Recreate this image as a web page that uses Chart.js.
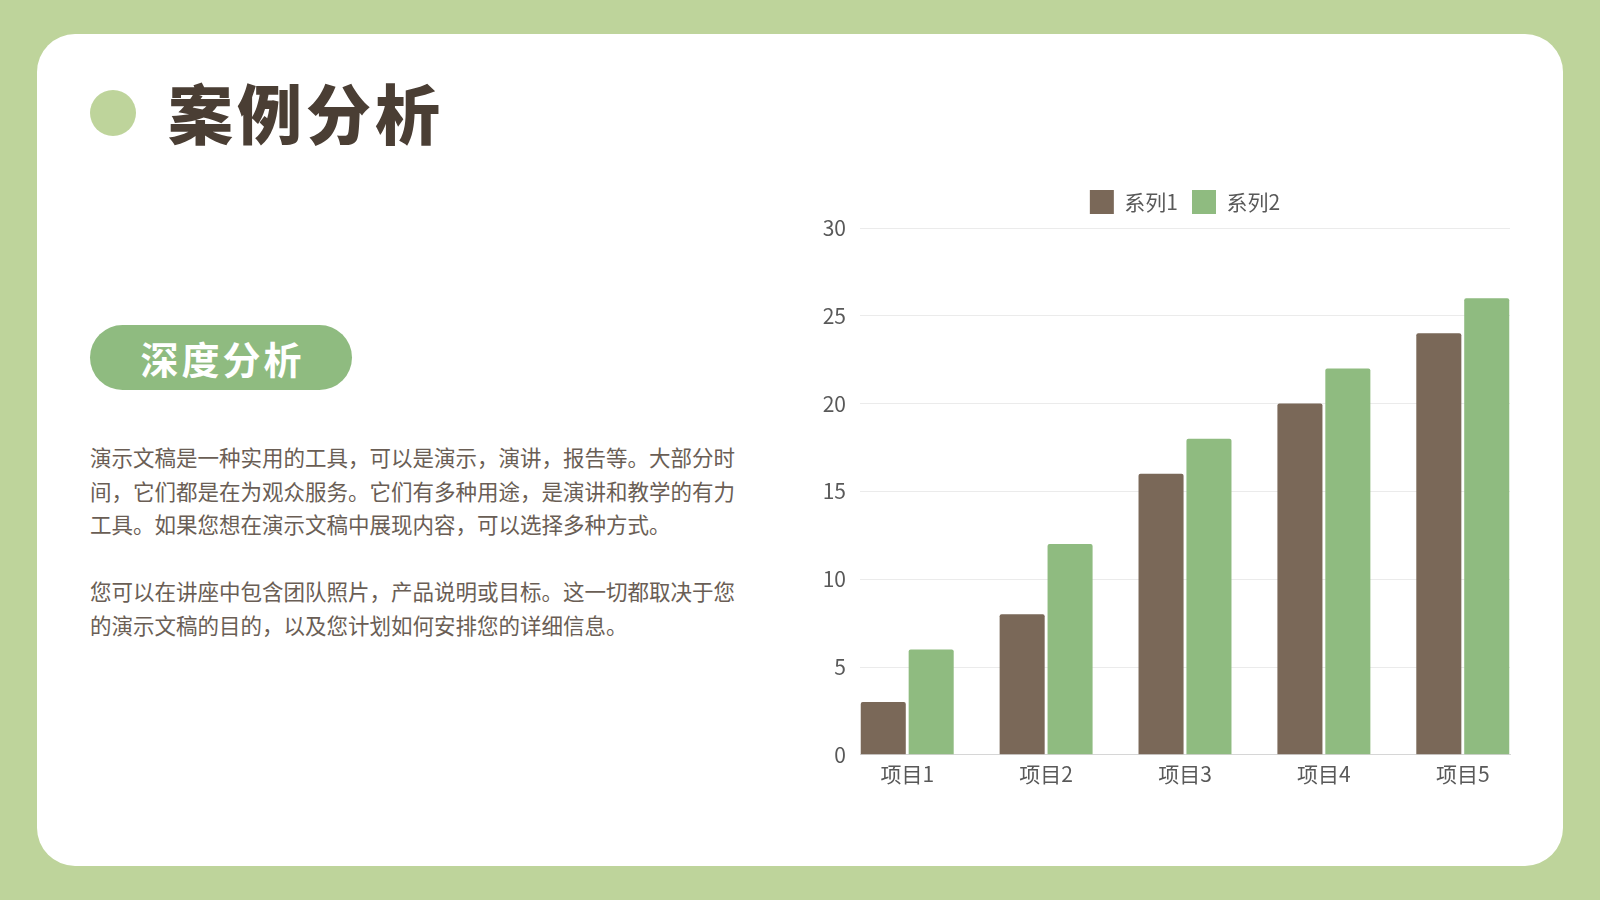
<!DOCTYPE html>
<html lang="zh-CN">
<head>
<meta charset="utf-8">
<script src="https://cdn.jsdelivr.net/npm/chart.js@4/dist/chart.umd.min.js"></script>
<style>
  html, body { margin:0; padding:0; }
  body { width:1600px; height:900px; background:#bed49b; position:relative; overflow:hidden;
         font-family:"Noto Sans CJK SC","Noto Sans",sans-serif; }
  .card { position:absolute; left:37px; top:34px; width:1526px; height:832px; background:#ffffff; border-radius:38px; }
  .dot { position:absolute; left:90px; top:90px; width:46px; height:46px; border-radius:50%; background:#bed49b; }
  .title { position:absolute; left:168px; top:69px; font-size:65px; font-weight:900; color:#4a3e34; letter-spacing:4px; line-height:84px; white-space:nowrap; }
  .pill { position:absolute; left:90px; top:325px; width:262px; height:65px; border-radius:33px; background:#8fbb80;
          color:#ffffff; font-size:38px; font-weight:700; text-align:center; line-height:65px; letter-spacing:3px; text-indent:3px; }
  .para { position:absolute; left:90px; top:440px; width:700px; font-size:21.5px; color:#6a5e55; line-height:33.6px; white-space:nowrap; }
  .para p { margin:0 0 33.6px 0; }
  #wrap { position:absolute; left:800px; top:170px; width:740px; height:634px; }
</style>
</head>
<body>
<div class="card"></div>
<div class="dot"></div>
<div class="title">案例分析</div>
<div class="pill">深度分析</div>
<div class="para">
  <p>演示文稿是一种实用的工具，可以是演示，演讲，报告等。大部分时<br>间，它们都是在为观众服务。它们有多种用途，是演讲和教学的有力<br>工具。如果您想在演示文稿中展现内容，可以选择多种方式。</p>
  <p>您可以在讲座中包含团队照片，产品说明或目标。这一切都取决于您<br>的演示文稿的目的，以及您计划如何安排您的详细信息。</p>
</div>
<div id="wrap"><canvas id="c"></canvas></div>
<script>
const categories = ["项目1", "项目2", "项目3", "项目4", "项目5"];
const series1 = [3, 8, 16, 20, 24];
const series2 = [6, 12, 18, 22, 26];
const seriesNames = ["系列1", "系列2"];
const yTicks = [0, 5, 10, 15, 20, 25, 30];

const toPoints = arr => arr.map((v, i) => ({ x: i, y: v }));
const font = { family: '"Noto Sans CJK SC","Noto Sans",sans-serif', size: 21 };

const chart = new Chart(document.getElementById('c'), {
  type: 'bar',
  data: {
    datasets: [
      { label: seriesNames[0], data: toPoints(series1), backgroundColor: '#7a6858', borderRadius: 2, borderSkipped: 'bottom',
        categoryPercentage: 0.69, barPercentage: 0.94 },
      { label: seriesNames[1], data: toPoints(series2), backgroundColor: '#8fbb80', borderRadius: 2, borderSkipped: 'bottom',
        categoryPercentage: 0.69, barPercentage: 0.94 }
    ]
  },
  options: {
    responsive: true,
    maintainAspectRatio: false,
    animation: false,
    layout: { padding: { left: 0, right: 30, top: 6, bottom: 10 } },
    plugins: {
      tooltip: { enabled: false },
      legend: {
        position: 'top',
        fullSize: false,
        labels: { boxWidth: 24, boxHeight: 24, padding: 14, color: '#595959', font: font }
      }
    },
    scales: {
      x: {
        type: 'linear',
        min: -0.34,
        max: 4.34,
        offset: false,
        grid: { display: false, offset: false, drawTicks: false },
        border: { display: true, color: '#d6d6d6', width: 1 },
        ticks: {
          stepSize: 1,
          includeBounds: false,
          padding: 7,
          color: '#595959',
          font: font,
          callback: v => (Number.isInteger(v) ? (categories[v] ?? '') : '')
        }
      },
      y: {
        min: yTicks[0],
        max: yTicks[yTicks.length - 1],
        afterFit: s => { s.width = 60; },
        afterBuildTicks: s => { s.ticks = yTicks.map(v => ({ value: v })); },
        grid: { color: '#ebebeb', lineWidth: 1, drawTicks: false },
        border: { display: false },
        ticks: { padding: 14, color: '#595959', font: font }
      }
    }
  }
});

// add a little extra space below the legend, keeping the legend itself in place
if (chart.legend) {
  const lg = chart.legend;
  const origFit = lg.fit.bind(lg);
  lg.fit = function () { origFit(); this.height += 4; };
  chart.update();
}
</script>
</body>
</html>
